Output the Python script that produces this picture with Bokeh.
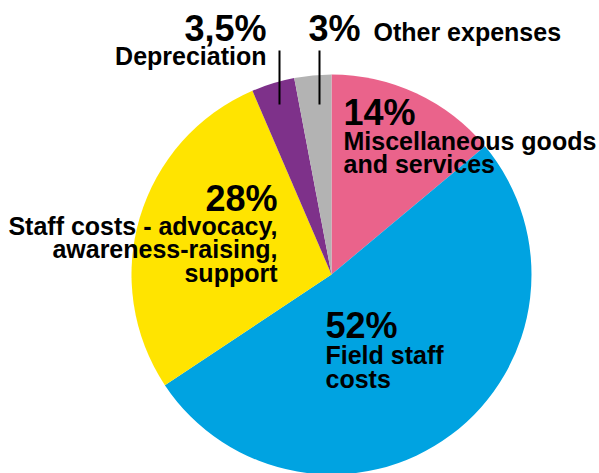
import math
from bokeh.plotting import figure
from bokeh.models import Range1d, ColumnDataSource
from bokeh.core.properties import value
from bokeh.embed import file_html
from bokeh.resources import INLINE

# ---- data ----
categories = ["Miscellaneous goods and services", "Field staff costs",
              "Staff costs - advocacy, awareness-raising, support",
              "Depreciation", "Other expenses"]
shares = [14, 52, 28, 3.5, 3]
pct_labels = ["14%", "52%", "28%", "3,5%", "3%"]
colors = ["#EA638B", "#00A3E1", "#FFE400", "#7E318A", "#B3B3B3"]

W, H = 599, 473


def X(px):
    return px


def Y(py):
    return H - py


p = figure(width=W, height=H, output_backend="svg", toolbar_location=None,
           x_range=Range1d(0, W), y_range=Range1d(0, H), min_border=0)
p.axis.visible = False
p.grid.visible = False
p.outline_line_color = None
p.background_fill_color = "white"
p.border_fill_color = "white"

total = sum(shares)
starts, ends = [], []
cum = 0.0
for s in shares:
    a0 = math.pi / 2 - 2 * math.pi * cum / total
    cum += s
    a1 = math.pi / 2 - 2 * math.pi * cum / total
    starts.append(a0)
    ends.append(a1)

src = ColumnDataSource(dict(start=starts, end=ends, color=colors, cat=categories))
p.wedge(x=X(331), y=Y(274), radius=200, start_angle="start", end_angle="end",
        direction="clock", fill_color="color", line_color=None, source=src)

# leader lines
for lx in (279, 319):
    p.segment(x0=X(lx), y0=Y(50), x1=X(lx), y1=Y(104), line_color="black", line_width=2)

FONT = value("Liberation Sans")
BIG = 36
SMALL = 25


def txt(x, y, s, size, align):
    p.text(x=[X(x)], y=[Y(y - 0.4 * size)], text=[s], text_font=FONT,
           text_font_style="bold", text_font_size=f"{size}px", text_align=align,
           text_baseline="alphabetic", text_color="black")


# 14% Misc
txt(343, 126, pct_labels[0], BIG, "left")
txt(343, 150, "Miscellaneous goods", SMALL, "left")
txt(343, 173, "and services", SMALL, "left")
# 52% Field
txt(325, 339, pct_labels[1], BIG, "left")
txt(325, 364, "Field staff", SMALL, "left")
txt(325, 388, "costs", SMALL, "left")
# 28% Staff
txt(277, 212, pct_labels[2], BIG, "right")
txt(277, 235, "Staff costs - advocacy,", SMALL, "right")
txt(277, 258, "awareness-raising,", SMALL, "right")
txt(277, 282, "support", SMALL, "right")
# 3,5% Depreciation
txt(266, 42, pct_labels[3], BIG, "right")
txt(266, 65, "Depreciation", SMALL, "right")
# 3% Other
txt(308, 42, pct_labels[4], BIG, "left")
txt(373, 41, "Other expenses", SMALL, "left")

open("out.html", "w").write(file_html(p, INLINE))
